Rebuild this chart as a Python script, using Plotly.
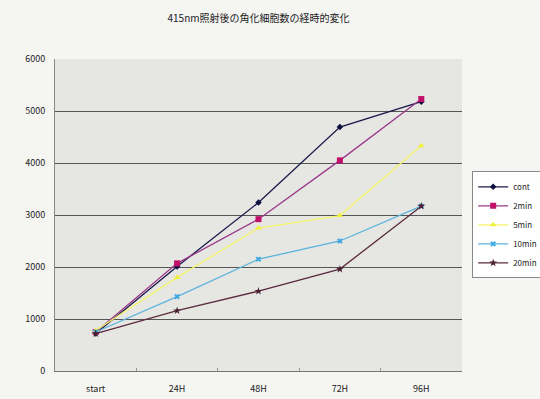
import plotly.graph_objects as go

categories = ["start", "24H", "48H", "72H", "96H"]
cont = [720, 2010, 3240, 4690, 5180]
min2 = [750, 2070, 2920, 4050, 5230]
min5 = [780, 1800, 2750, 2990, 4330]
min10 = [750, 1430, 2150, 2500, 3170]
min20 = [720, 1160, 1535, 1960, 3170]
y_ticks = [0, 1000, 2000, 3000, 4000, 5000, 6000]

series = [
    ("cont", cont, "#1a1a4a", "#101040", "diamond", 5),
    ("2min", min2, "#9a3a8a", "#c0106a", "square", 6),
    ("5min", min5, "#f4f46a", "#f0f040", "triangle-up", 6),
    ("10min", min10, "#5ab4dc", "#40a8e0", "x", 5),
    ("20min", min20, "#5a2a40", "#4a2030", "star", 6),
]

fig = go.Figure()
for name, vals, lc, mc, sym, ms in series:
    fig.add_trace(go.Scatter(
        x=categories, y=vals, name=name, mode="lines+markers",
        line=dict(color=lc, width=1.3),
        marker=dict(color=mc, symbol=sym, size=ms),
    ))

fig.update_layout(
    width=540, height=399,
    margin=dict(l=55, r=78, t=59, b=28, autoexpand=False),
    paper_bgcolor="#f5f5f2",
    plot_bgcolor="#e6e6e3",
    font=dict(family="Noto Sans CJK JP, DejaVu Sans, sans-serif", size=9, color="#222"),
    title=dict(text="415nm照射後の角化細胞数の経時的変化", x=0.5, xref="paper",
               xanchor="center", y=0.953, yanchor="middle",
               font=dict(size=10, color="#222")),
    showlegend=True,
    legend=dict(x=1.025, y=0.64, xanchor="left", yanchor="top",
                bgcolor="#ffffff", bordercolor="#888", borderwidth=1,
                font=dict(size=8), tracegroupgap=0, itemwidth=30),
    xaxis=dict(type="category", range=[-0.5, 4.5], showgrid=False,
               showline=True, linecolor="#777", linewidth=1,
               ticks="inside", tickson="boundaries", ticklen=3, tickcolor="#999",
               ticklabelstandoff=9,
               tickfont=dict(size=9), mirror=False),
    yaxis=dict(range=[0, 6000], tickvals=y_ticks, showgrid=True,
               gridcolor="#555", gridwidth=1, showline=True, linecolor="#888",
               zeroline=False, ticks="", ticklabelstandoff=7,
               tickfont=dict(size=9)),
)

fig.write_html("out.html")
